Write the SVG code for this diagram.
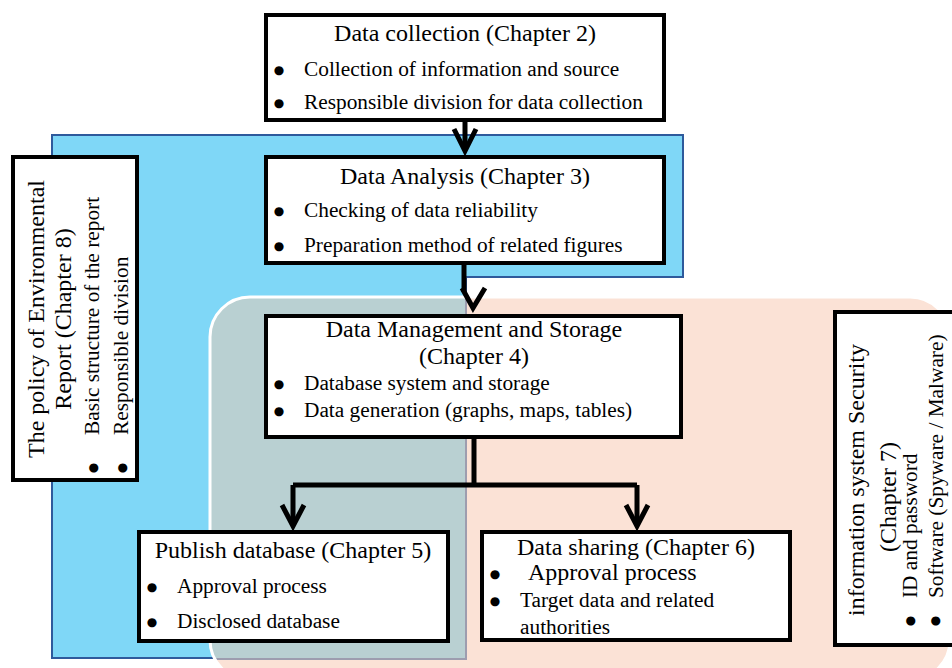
<svg xmlns="http://www.w3.org/2000/svg" width="952" height="668" viewBox="0 0 952 668">
<style>
text{font-family:"Liberation Serif","Times New Roman",serif;fill:#000}
.t{font-size:24px}
.b{font-size:21.33px}
text.bl{font-family:"DejaVu Sans",sans-serif;font-size:12px;text-anchor:middle}
.box{fill:#fff;stroke:#000;stroke-width:4}
.conn{fill:none;stroke:#000;stroke-width:5;stroke-linejoin:miter}
.m{text-anchor:middle}
</style>
<defs>
<clipPath id="pc"><rect x="210" y="297" width="740" height="383" rx="40"/></clipPath>
</defs>
<g id="background">
<path d="M52,135 H683 V277 H466 V658 H52 Z" fill="#7fd7f7" stroke="#2e5a9c" stroke-width="2"/>
<rect x="210" y="297" width="740" height="383" rx="40" fill="#fbe2d6"/>
<g clip-path="url(#pc)">
<rect x="210" y="297" width="256" height="362" fill="#b9d0d2"/>
<path d="M466,297 V659 H200" fill="none" stroke="#9d9daf" stroke-width="2"/>
</g>
<rect x="210" y="297" width="740" height="383" rx="40" fill="none" stroke="#fff" stroke-width="3"/>
</g>
<g id="connectors">
<path class="conn" d="M465,122 V150"/>
<path class="conn" d="M454,129 L465,151 L476,129"/>
<path class="conn" d="M464,265 V292"/>
<path class="conn" d="M462,288 L473,308 L485,288"/>
<path class="conn" d="M474,439 V485 M293,485 H637 M293,485 V524 M637,485 V524"/>
<path class="conn" d="M282,505 L293,526 L304,505"/>
<path class="conn" d="M626,505 L637,526 L648,505"/>
</g>
<g id="n-collection">
<rect class="box" x="266" y="15" width="398" height="105"/>
<text class="t m" x="465" y="41">Data collection (Chapter 2)</text>
<text class="bl" x="279" y="74">●</text><text class="b" x="304" y="76">Collection of information and source</text>
<text class="bl" x="279" y="107">●</text><text class="b" x="304" y="109">Responsible division for data collection</text>
</g>
<g id="n-analysis">
<rect class="box" x="266" y="157" width="398" height="106"/>
<text class="t m" x="465" y="184">Data Analysis (Chapter 3)</text>
<text class="bl" x="279" y="215">●</text><text class="b" x="304" y="217">Checking of data reliability</text>
<text class="bl" x="279" y="250">●</text><text class="b" x="304" y="252">Preparation method of related figures</text>
</g>
<g id="n-management">
<rect class="box" x="266" y="316" width="415" height="121"/>
<text class="t m" x="474" y="337">Data Management and Storage</text>
<text class="t m" x="474" y="364">(Chapter 4)</text>
<text class="bl" x="279" y="388">●</text><text class="b" x="304" y="390">Database system and storage</text>
<text class="bl" x="279" y="415">●</text><text class="b" x="304" y="417">Data generation (graphs, maps, tables)</text>
</g>
<g id="n-publish">
<rect class="box" x="139" y="532" width="309" height="109"/>
<text class="t m" x="293" y="558">Publish database (Chapter 5)</text>
<text class="bl" x="152" y="591">●</text><text class="b" x="177" y="593">Approval process</text>
<text class="bl" x="152" y="626">●</text><text class="b" x="177" y="628">Disclosed database</text>
</g>
<g id="n-sharing">
<rect class="box" x="482" y="532" width="308" height="108"/>
<text class="t" x="517" y="555">Data sharing (Chapter 6)</text>
<text class="bl" x="495" y="578">●</text><text class="t" x="528" y="580">Approval process</text>
<text class="bl" x="495" y="605">●</text><text class="b" x="520" y="607">Target data and related</text>
<text class="b" x="520" y="634">authorities</text>
</g>
<g id="n-report">
<rect class="box" x="13" y="157" width="124" height="323"/>
<text class="t m" transform="translate(44,319) rotate(-90)">The policy of Environmental</text>
<text class="t m" transform="translate(71,319) rotate(-90)">Report (Chapter 8)</text>
<text class="b" transform="translate(99,435) rotate(-90)">Basic structure of the report</text>
<text class="b" transform="translate(128,435) rotate(-90)">Responsible division</text>
<text class="bl" transform="translate(97,468) rotate(-90)">●</text>
<text class="bl" transform="translate(126,468) rotate(-90)">●</text>
</g>
<g id="n-security">
<rect class="box" x="835" y="312" width="130" height="333"/>
<text class="t m" transform="translate(864,480) rotate(-90)">information system Security</text>
<text class="t m" transform="translate(896,497) rotate(-90)">(Chapter 7)</text>
<text class="b" transform="translate(917,598) rotate(-90)">ID and password</text>
<text class="b" transform="translate(943,598) rotate(-90)">Software (Spyware / Malware)</text>
<text class="bl" transform="translate(914,621) rotate(-90)">●</text>
<text class="bl" transform="translate(939,621) rotate(-90)">●</text>
</g>
</svg>
